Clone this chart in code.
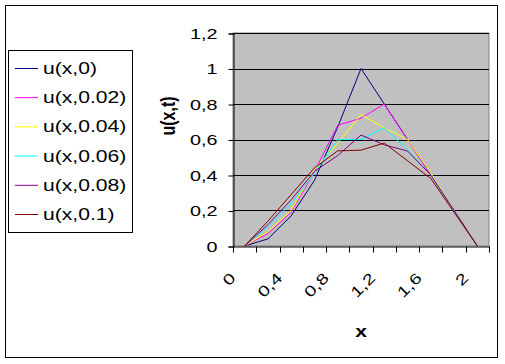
<!DOCTYPE html>
<html>
<head>
<meta charset="utf-8">
<script src="https://cdn.jsdelivr.net/npm/d3@7"></script>
<style>
  html, body { margin: 0; padding: 0; background: #ffffff; }
  text { font-family: "Liberation Sans", Arial, sans-serif; }
</style>
</head>
<body>
<div id="container"></div>
<script>
"use strict";

const width = 505;
const height = 364;

// plot area
const plotLeft = 233;
const plotRight = 489;
const plotTop = 33;
const plotBottom = 246;

const stretch = 1.32;

// data
const xCategories = ["0", "0.2", "0.4", "0.6", "0.8", "1", "1.2", "1.4", "1.6", "1.8", "2"];
const xTickLabels = ["0", "", "0,4", "", "0,8", "", "1,2", "", "1,6", "", "2"];
const yTicks = [0, 0.2, 0.4, 0.6, 0.8, 1, 1.2];
const yTickLabels = ["0", "0,2", "0,4", "0,6", "0,8", "1", "1,2"];

const seriesNames = ["u(x,0)", "u(x,0.02)", "u(x,0.04)", "u(x,0.06)", "u(x,0.08)", "u(x,0.1)"];
const u0 = [0, 0.04, 0.17, 0.37, 0.67, 1.0, 0.8, 0.6, 0.4, 0.2, 0];
const u002 = [0, 0.07, 0.19, 0.42, 0.68, 0.72, 0.8, 0.6, 0.4, 0.2, 0];
const u004 = [0, 0.08, 0.2, 0.43, 0.58, 0.74, 0.665, 0.6, 0.41, 0.2, 0];
const u006 = [0, 0.11, 0.24, 0.41, 0.6, 0.6, 0.665, 0.54, 0.4, 0.2, 0];
const u008 = [0, 0.12, 0.26, 0.42, 0.51, 0.625, 0.57, 0.535, 0.4, 0.2, 0];
const u01 = [0, 0.14, 0.29, 0.44, 0.536, 0.54, 0.58, 0.48, 0.38, 0.19, 0];

const seriesColors = ["#000080", "#ff00ff", "#ffff00", "#00ffff", "#800080", "#800000"];

const series = [u0, u002, u004, u006, u008, u01].map((values, i) => ({
  name: seriesNames[i],
  color: seriesColors[i],
  values: values,
}));

const svg = d3
  .select("#container")
  .append("svg")
  .attr("width", width)
  .attr("height", height);

// chart frame
svg
  .append("rect")
  .attr("x", 5.5)
  .attr("y", 5.5)
  .attr("width", 492)
  .attr("height", 352)
  .attr("fill", "#ffffff")
  .attr("stroke", "#000000");

const xScale = d3
  .scaleBand()
  .domain(xCategories)
  .range([plotLeft, plotRight]);

const yScale = d3
  .scaleLinear()
  .domain([0, 1.2])
  .range([plotBottom, plotTop]);

svg
  .append("rect")
  .attr("x", plotLeft)
  .attr("y", plotTop)
  .attr("width", plotRight - plotLeft)
  .attr("height", plotBottom - plotTop)
  .attr("fill", "#c0c0c0")
  .attr("stroke", "#808080");

// gridlines
svg
  .append("g")
  .selectAll("line")
  .data(yTicks.slice(1))
  .enter()
  .append("line")
  .attr("x1", plotLeft)
  .attr("x2", plotRight)
  .attr("y1", (d) => Math.round(yScale(d)) + 0.5)
  .attr("y2", (d) => Math.round(yScale(d)) + 0.5)
  .attr("stroke", "#000000");

// lines
const line = d3
  .line()
  .x((d, i) => xScale(xCategories[i]) + xScale.bandwidth() / 2)
  .y((d) => yScale(d));

svg
  .append("g")
  .selectAll("path")
  .data(series)
  .enter()
  .append("path")
  .attr("d", (d) => line(d.values))
  .attr("fill", "none")
  .attr("stroke", (d) => d.color)
  .attr("stroke-width", 1);

// y axis
const yAxis = d3
  .axisLeft(yScale)
  .tickValues(yTicks)
  .tickSize(5)
  .tickPadding(12)
  .tickFormat((d, i) => yTickLabels[i]);

const yAxisG = svg
  .append("g")
  .attr("transform", `translate(${plotLeft + 0.5}, 0.5)`)
  .call(yAxis);

yAxisG.select(".domain").attr("stroke", "#000000");
yAxisG.selectAll(".tick line").attr("stroke", "#000000");
yAxisG
  .selectAll(".tick text")
  .attr("font-size", 15)
  .attr("fill", "#000000")
  .attr("x", null)
  .attr("transform", `translate(-16, 0) scale(${stretch}, 1)`);

// x axis
const xAxis = d3
  .axisBottom(xScale)
  .tickValues([])
  .tickSizeOuter(0);

const xAxisG = svg
  .append("g")
  .attr("transform", `translate(0.5, ${plotBottom + 0.5})`)
  .call(xAxis);

xAxisG.select(".domain").attr("stroke", "#000000");

const xTickPositions = xCategories.map((c) => xScale(c)).concat([plotRight]);

xAxisG
  .selectAll(".xtick")
  .data(xTickPositions)
  .enter()
  .append("line")
  .attr("x1", (d) => Math.round(d))
  .attr("x2", (d) => Math.round(d))
  .attr("y1", 0)
  .attr("y2", 6)
  .attr("stroke", "#000000");

svg
  .append("g")
  .selectAll("text")
  .data(xCategories)
  .enter()
  .append("text")
  .attr(
    "transform",
    (d) =>
      `translate(${xScale(d) + xScale.bandwidth() / 2 - 8}, ${plotBottom + 33}) rotate(-45) scale(${stretch}, 1)`
  )
  .attr("text-anchor", "end")
  .attr("font-size", 15)
  .text((d, i) => xTickLabels[i]);

// axis titles
svg
  .append("text")
  .attr("transform", `translate(${(plotLeft + plotRight) / 2}, 337) scale(${stretch}, 1)`)
  .attr("text-anchor", "middle")
  .attr("font-size", 16)
  .attr("font-weight", "bold")
  .text("x");

svg
  .append("text")
  .attr("transform", `translate(175, 116) scale(${stretch}, 1) rotate(-90)`)
  .attr("text-anchor", "middle")
  .attr("font-size", 16)
  .attr("font-weight", "bold")
  .text("u(x,t)");

// legend
const legend = svg.append("g");

legend
  .append("rect")
  .attr("x", 8.5)
  .attr("y", 50.5)
  .attr("width", 124)
  .attr("height", 182)
  .attr("fill", "#ffffff")
  .attr("stroke", "#000000");

const legendRow = d3
  .scalePoint()
  .domain(seriesNames)
  .range([68, 214]);

const legendItems = legend
  .selectAll(".item")
  .data(series)
  .enter()
  .append("g")
  .attr("transform", (d) => `translate(0, ${legendRow(d.name)})`);

legendItems
  .append("line")
  .attr("x1", 15)
  .attr("x2", 38)
  .attr("y1", 0.5)
  .attr("y2", 0.5)
  .attr("stroke", (d) => d.color);

legendItems
  .append("text")
  .attr("transform", `translate(43, 6) scale(${stretch}, 1)`)
  .attr("font-size", 16)
  .text((d) => d.name);
</script>
</body>
</html>
